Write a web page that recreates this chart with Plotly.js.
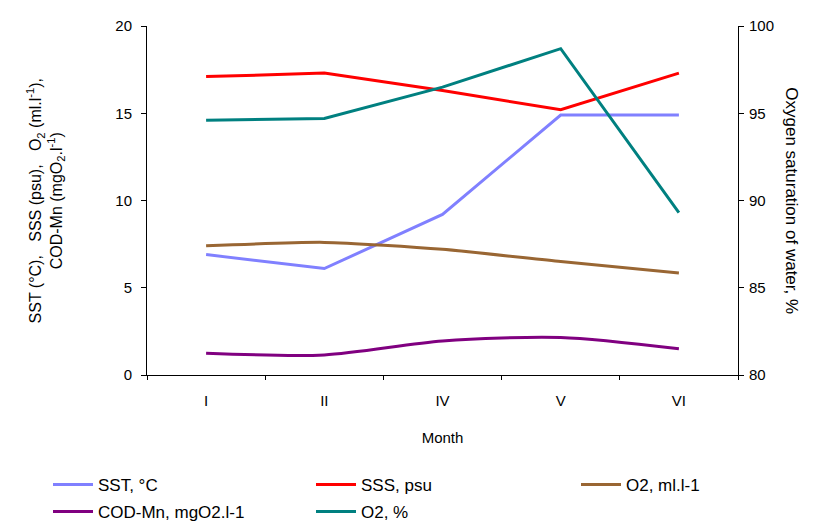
<!DOCTYPE html>
<html>
<head>
<meta charset="utf-8">
<script src="https://cdn.plot.ly/plotly-3.0.1.min.js"></script>
<style>html,body{margin:0;padding:0;background:#fff;}#chart{width:837px;height:527px;}</style>
</head>
<body>
<div id="chart"></div>
<script>
const months = ["I", "II", "IV", "V", "VI"];
const sst = [6.9, 6.1, 9.2, 14.9, 14.9];
const sss = [17.1, 17.3, 16.3, 15.2, 17.3];
const o2ml = [7.4, 7.6, 7.2, 6.5, 5.85];
const codMn = [1.25, 1.15, 1.95, 2.15, 1.5];
const o2pct = [94.6, 94.7, 96.5, 98.7, 89.3];

const seriesNames = ["SST, °C", "SSS, psu", "O2, ml.l-1", "COD-Mn, mgO2.l-1", "O2, %"];
const font = "Liberation Sans, Arial, sans-serif";
const nb = "\u00a0";

const traces = [
  {x: months, y: sst, name: seriesNames[0], legend: "legend", mode: "lines", line: {color: "#8080ff", width: 3}},
  {x: months, y: sss, name: seriesNames[1], legend: "legend2", mode: "lines", line: {color: "#ff0000", width: 3}},
  {x: months, y: o2ml, name: seriesNames[2], legend: "legend3", mode: "lines", line: {color: "#996633", width: 3, shape: "spline", smoothing: 0.6}},
  {x: months, y: codMn, name: seriesNames[3], legend: "legend4", mode: "lines", line: {color: "#800080", width: 3, shape: "spline", smoothing: 0.8}},
  {x: months, y: o2pct, name: seriesNames[4], legend: "legend5", mode: "lines", yaxis: "y2", line: {color: "#008080", width: 3}}
];

function leg(xpx, ypaper) {
  return {orientation: "h", x: (xpx - 147) / 591, xanchor: "left", y: ypaper, yanchor: "top",
          font: {family: font, size: 17, color: "#000"}, bgcolor: "rgba(0,0,0,0)", itemwidth: 40,
          tracegroupgap: 0};
}
const row1 = -0.2636, row2 = -0.341;

const layout = {
  width: 837, height: 527,
  margin: {l: 147, r: 99, t: 26, b: 152, autoexpand: false},
  paper_bgcolor: "#fff", plot_bgcolor: "#fff",
  font: {family: font, size: 14, color: "#000"},
  showlegend: true,
  legend: leg(48, row1),
  legend2: leg(311, row1),
  legend3: leg(576, row1),
  legend4: leg(48, row2),
  legend5: leg(311, row2),
  xaxis: {type: "category", range: [-0.5, 4.5], showline: true, linecolor: "#000", linewidth: 1,
          ticks: "outside", tickson: "boundaries", ticklen: 4, tickcolor: "#000",
          showgrid: false, zeroline: false, fixedrange: true, ticklabelstandoff: 12,
          title: {text: "Month", font: {family: font, size: 15}, standoff: 24},
          tickfont: {family: font, size: 15}},
  yaxis: {range: [0, 20], dtick: 5, showline: true, linecolor: "#000", linewidth: 1,
          ticks: "outside", ticklen: 5, tickcolor: "#000", showgrid: false, zeroline: false,
          ticklabelstandoff: 6, tickfont: {family: font, size: 15}},
  yaxis2: {range: [80, 100], dtick: 5, overlaying: "y", side: "right", showline: true,
           linecolor: "#000", linewidth: 1, ticks: "outside", ticklen: 5, tickcolor: "#000",
           showgrid: false, zeroline: false, ticklabelstandoff: 2, tickfont: {family: font, size: 15}},
  annotations: [
    {xref: "paper", yref: "paper", x: -0.171, y: 0.5, xanchor: "center", yanchor: "middle",
     textangle: -90, showarrow: false, font: {family: font, size: 16},
     text: "SST (°C)," + nb + nb + nb + "SSS (psu)," + nb + nb + nb + "O<sub>2</sub> (ml.l<sup>-1</sup>),<br>COD-Mn (mgO<sub>2</sub>.l<sup>-1</sup>)"},
    {xref: "paper", yref: "paper", x: 1.09, y: 0.5, xanchor: "center", yanchor: "middle",
     textangle: 90, showarrow: false, font: {family: font, size: 17},
     text: "Oxygen saturation of water, %"}
  ]
};

Plotly.newPlot("chart", traces, layout, {displayModeBar: false, staticPlot: true});
</script>
</body>
</html>
